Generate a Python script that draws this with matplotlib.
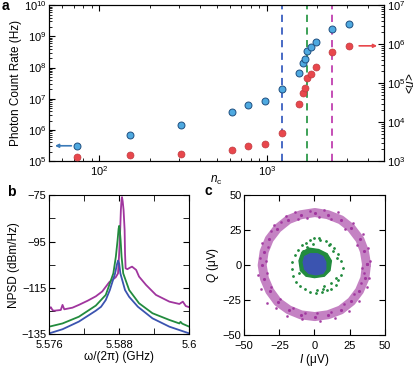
import matplotlib.pyplot as plt
from matplotlib.ticker import LogLocator, NullFormatter

plt.rcParams['font.family'] = ['Liberation Sans', 'DejaVu Sans']
plt.rcParams['font.size'] = 8.5
plt.rcParams['mathtext.fontset'] = 'custom'
plt.rcParams['mathtext.it'] = 'Liberation Sans:italic'
plt.rcParams['mathtext.rm'] = 'Liberation Sans'

# panel a: photon count rate (left axis) and <u> (right axis) vs n_c
n_c = [73.5, 152, 305, 615, 773, 977, 1230, 1550, 1640, 1695, 1743, 1843, 1958, 2462, 3110]
count_rate = [3.1e5, 7.0e5, 1.46e6, 3.7e6, 6.2e6, 8.3e6, 2.1e7, 6.9e7, 1.4e8, 1.9e8,
              3.4e8, 4.4e8, 6.6e8, 1.7e9, 2.4e9]
u_mean = [1245, 1400, 1510, 1880, 2460, 2690, 5220, 28400, 56400, 75700,
          132000, 170000, 262000, 632000, 904000]
marked_n = [1230, 1743, 2462]

# panel b: noise power spectral density
f_mag = [5.5760, 5.5763, 5.5766, 5.5769, 5.5780, 5.5783, 5.5786, 5.5800, 5.5811, 5.5826,
         5.5840, 5.5851, 5.5863, 5.5874, 5.5878, 5.5880, 5.58817, 5.58829, 5.5884, 5.58848,
         5.5886, 5.58875, 5.58893, 5.5890, 5.5891, 5.5894, 5.5898, 5.5902, 5.5909,
         5.5914, 5.5926, 5.5943, 5.5966, 5.5983, 5.5989, 5.5994, 5.6000]
p_mag = [-124.0, -123.3, -124.6, -124.8, -124.5, -122.3, -124.2, -123.5, -122.3, -120.5,
         -118.6, -116.5, -112.5, -110.4, -108.7, -100.0, -90.0, -81.3, -77.0, -75.8,
         -77.6, -81.3, -90.0, -100.0, -106.5, -106.9, -106.3, -105.8, -107.2,
         -110.1, -113.7, -118.0, -120.9, -121.9, -120.9, -122.8, -123.3]
f_grn = [5.5760, 5.5783, 5.5811, 5.5840, 5.5857, 5.5860, 5.5870, 5.58743, 5.58773, 5.5879,
         5.5880, 5.5881, 5.58824, 5.58841, 5.58869, 5.58971, 5.5914, 5.5937, 5.5966, 5.5983,
         5.5985, 5.5988, 5.6000]
p_grn = [-131.7, -130.3, -127.4, -122.6, -118.0, -115.9, -108.7, -101.5, -94.3, -89.5,
         -88.2, -89.8, -94.3, -101.5, -108.7, -115.9, -121.6, -125.9, -128.8, -130.3,
         -129.6, -130.4, -131.7]
f_blu = [5.5760, 5.5783, 5.5811, 5.5840, 5.5849, 5.5857, 5.5864, 5.5873, 5.5876, 5.5878,
         5.5880, 5.5882, 5.5890, 5.5897, 5.5912, 5.5937, 5.5966, 5.6000]
p_blu = [-134.6, -132.8, -129.5, -124.8, -123.1, -120.2, -115.9, -108.7, -105.0, -103.2,
         -104.5, -108.7, -115.9, -118.8, -123.1, -128.1, -131.7, -134.6]

# panel c: IQ scatter
ring_I = [37.0, 35.5, 32.3, 26.0, 18.8, 9.4, 0.3, -9.8, -18.5, -26.4, -32.2, -35.8,
          -37.2, -35.6, -31.8, -26.1, -18.3, -9.5, 0.2, 9.7, 18.6, 26.3, 32.0, 35.8, 37.0]
ring_Q = [0.5, 9.8, 18.2, 26.5, 32.2, 35.9, 37.4, 35.8, 32.4, 26.0, 18.4, 9.5,
          -0.2, -9.7, -18.6, -26.4, -32.0, -35.6, -36.8, -35.5, -32.1, -26.0, -18.4, -9.4, 0.5]
ring_dot_I = [39.5, 34.0, 38.0, 30.5, 34.5, 22.0, 27.5, 12.0, 17.0, 3.0, 6.5, -5.0, -3.0,
              -14.0, -11.5, -24.0, -20.0, -31.0, -29.0, -37.5, -33.0, -39.0, -34.5, -40.0,
              -34.0, -38.0, -31.0, -33.5, -24.5, -27.5, -15.0, -19.5, -6.5, -9.0, 2.0, 4.0,
              12.0, 14.5, 21.0, 24.5, 28.0, 31.5, 33.0, 37.5, 35.0, 39.0]
ring_dot_Q = [3.0, -2.0, 12.0, 14.5, 22.0, 26.0, 30.0, 33.0, 37.5, 34.0, 39.5, 33.5, 38.5,
              37.5, 33.0, 31.0, 35.0, 24.0, 28.5, 16.0, 13.0, 5.0, 3.0, -7.0, -6.0, -17.0,
              -16.0, -27.0, -24.0, -30.5, -31.0, -36.5, -34.0, -38.5, -34.0, -40.0, -33.5,
              -38.0, -27.5, -33.0, -21.0, -25.5, -13.0, -16.0, -6.0, -9.0]
grn_I = [-3, 0, 4, 8, 11, 14, 17, 19, 20, 19, 17, 15, 12, 9, 5, 1, -3, -7, -10, -13,
         -15, -16, -16, -14, -12, -9, -6, 2, 6, 10, 13, 16, -1, -5, 7, 12, -11, 15, 3, -8]
grn_Q = [18, 19, 18, 17, 15, 12, 8, 3, -2, -7, -11, -14, -17, -18, -19, -20, -19, -17, -15, -12,
         -8, -3, 2, 7, 11, 14, 16, -18, -17, 14, 10, 5, 15, 13, -15, -13, -6, -9, 19, 10]
core_I = [-11, -9, -4, 3, 9, 12, 11, 7, 0, -6, -10]
core_Q = [3, 9, 12, 11, 8, 3, -4, -8, -9, -8, -4]
blob_I = [-8, -7, -3, 2, 6, 8, 8, 6, 1, -4, -7]
blob_Q = [2, 6, 8, 8, 6, 2, -3, -6, -7, -6, -3]

c_mag = '#a0359e'
c_grn = '#228b3e'
c_blu = '#3b54b0'

fig = plt.figure(figsize=(4.16, 3.67), dpi=100)

# ---- panel a
ax = fig.add_axes([0.118, 0.561, 0.805, 0.425])
ax2 = ax.twinx()
ax.set_xscale('log')
ax.set_yscale('log')
ax2.set_yscale('log')
ax.set_xlim(50, 5000)
ax.set_ylim(1e5, 1e10)
ax2.set_ylim(1e3, 1e7)
for xv, col in zip(marked_n, ['#3a5fc0', '#2e9a4a', '#c040b0']):
    ax.axvline(xv, color=col, ls=(0, (4, 3)), lw=1.3, zorder=1)
ax.plot(n_c, count_rate, 'o', ms=5, mfc='#4ea9e0', mec='#1f4f80', mew=0.7, zorder=3)
ax2.plot(n_c, u_mean, 'o', ms=5, mfc='#e8474c', mec='#c03a40', mew=0.5, zorder=3)
ax.annotate('', xy=(n_c[0] * 0.71, count_rate[0]), xytext=(n_c[0] * 0.96, count_rate[0]),
            arrowprops=dict(arrowstyle='-|>', color='#3a7ab8', lw=1.2, mutation_scale=5))
ax2.annotate('', xy=(n_c[-1] * 1.52, u_mean[-1]), xytext=(n_c[-1] * 1.1, u_mean[-1]),
             arrowprops=dict(arrowstyle='-|>', color='#e8474c', lw=1.2, mutation_scale=5))
ax.set_ylabel('Photon Count Rate (Hz)', labelpad=1)
ax2.set_ylabel(r'<$u$>', labelpad=0)
ax.set_xlabel(r'$n_{\rm c}$', labelpad=-3)
for a in (ax, ax2):
    a.yaxis.set_major_locator(LogLocator(base=10, numticks=20))
    a.yaxis.set_minor_locator(LogLocator(base=10, subs=range(2, 10), numticks=20))
    a.yaxis.set_minor_formatter(NullFormatter())
ax.xaxis.set_minor_formatter(NullFormatter())
ax.tick_params(which='both', direction='in', top=True, right=False, labelsize=8, pad=2)
ax.tick_params(which='major', length=4)
ax.tick_params(which='minor', length=2)
ax2.tick_params(which='both', direction='in', labelsize=8, pad=2)
ax2.tick_params(which='major', length=4)
ax2.tick_params(which='minor', length=2)

# ---- panel b
bx = fig.add_axes([0.118, 0.089, 0.337, 0.379])
bx.plot(f_mag, p_mag, color=c_mag, lw=1.3)
bx.plot(f_grn, p_grn, color=c_grn, lw=1.3)
bx.plot(f_blu, p_blu, color=c_blu, lw=1.3)
bx.set_xlim(5.576, 5.6)
bx.set_ylim(-135, -75)
bx.set_xticks([5.576, 5.588, 5.6])
bx.set_xticklabels(['5.576', '5.588', '5.6'])
bx.set_xticks([5.582, 5.594], minor=True)
bx.set_yticks([-135, -115, -95, -75])
bx.set_yticklabels(['\u2212135', '\u2212115', '\u221295', '\u221275'])
bx.set_yticks([-125, -105, -85], minor=True)
bx.tick_params(which='both', direction='in', top=True, right=True, length=4, labelsize=8)
bx.tick_params(axis='y', pad=2)
bx.tick_params(axis='x', pad=4)
bx.set_ylabel('NPSD (dBm/Hz)', labelpad=1)
bx.set_xlabel('\u03c9/(2\u03c0) (GHz)', labelpad=1)

# ---- panel c
cx = fig.add_axes([0.587, 0.087, 0.338, 0.382])
cx.plot(ring_I, ring_Q, color=c_mag, lw=6.5, alpha=0.62, solid_capstyle='round')
cx.plot(ring_I, ring_Q, '.', color=c_mag, ms=2.5)
cx.plot(ring_dot_I, ring_dot_Q, '.', color=c_mag, ms=2, alpha=0.8)
cx.fill(core_I, core_Q, color=c_grn)
cx.plot(grn_I, grn_Q, '.', color=c_grn, ms=2)
cx.fill(blob_I, blob_Q, color=c_blu)
cx.set_xlim(-50, 50)
cx.set_ylim(-50, 50)
cx.set_xticks([-50, -25, 0, 25, 50])
cx.set_yticks([-50, -25, 0, 25, 50])
cx.set_xticklabels(['\u221250', '\u221225', '0', '25', '50'])
cx.set_yticklabels(['\u221250', '\u221225', '0', '25', '50'])
cx.tick_params(direction='in', top=True, right=True, length=4, labelsize=8)
cx.tick_params(axis='y', pad=2)
cx.tick_params(axis='x', pad=4)
cx.set_ylabel('$Q$ (\u03bcV)', labelpad=1)
cx.set_xlabel('$I$ (\u03bcV)', labelpad=1)

fig.text(0.005, 0.972, 'a', fontweight='bold', fontsize=10)
fig.text(0.018, 0.466, 'b', fontweight='bold', fontsize=10)
fig.text(0.492, 0.468, 'c', fontweight='bold', fontsize=10)

fig.savefig('out.png', dpi=100)
